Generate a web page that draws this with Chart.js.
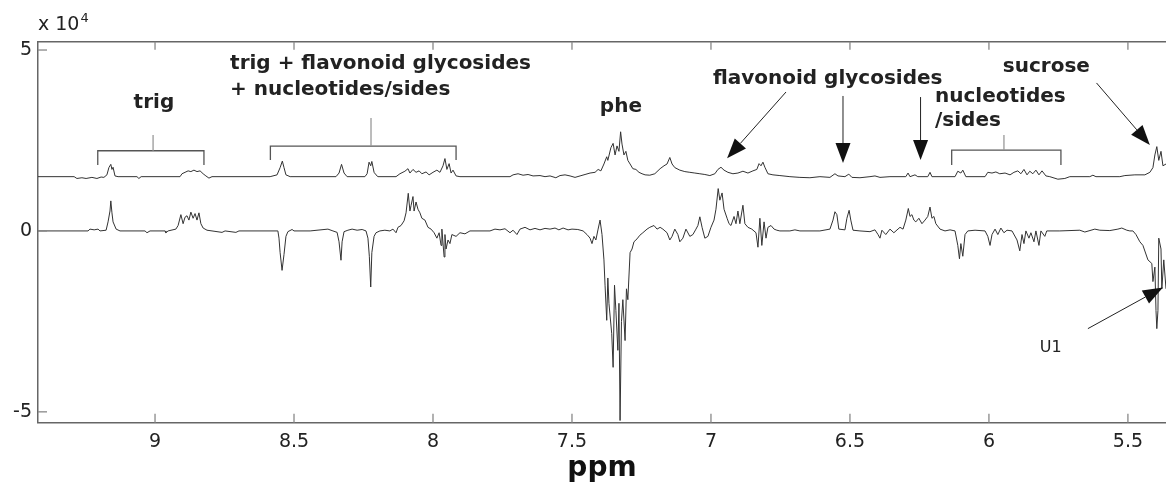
<!DOCTYPE html>
<html><head><meta charset="utf-8">
<script src="https://cdn.jsdelivr.net/npm/chart.js@4.4.1/dist/chart.umd.min.js"></script>
<style>html,body{margin:0;padding:0;background:#fff;}canvas{display:block;}</style>
</head><body>
<canvas id="c" width="1166" height="489"></canvas>
<script>
// ---------- data (values in units of 1e4) ----------
const xTicks = [9, 8.5, 8, 7.5, 7, 6.5, 6, 5.5];
const yTicks = [-5, 0, 5];

const upperPpm = [9.421,9.291,9.281,9.263,9.248,9.227,9.209,9.194,9.184,9.173,9.166,9.159,9.155,9.151,9.144,9.133,9.065,9.058,9.050,8.910,8.903,8.892,8.881,8.871,8.860,8.849,8.838,8.827,8.817,8.806,8.795,8.586,8.561,8.550,8.542,8.536,8.529,8.514,8.349,8.338,8.329,8.320,8.309,8.245,8.237,8.230,8.224,8.220,8.212,8.205,8.198,8.133,8.119,8.101,8.090,8.083,8.072,8.061,8.050,8.040,8.025,8.014,8.000,7.986,7.975,7.964,7.957,7.950,7.942,7.935,7.928,7.917,7.903,7.723,7.712,7.694,7.676,7.658,7.640,7.615,7.597,7.579,7.558,7.543,7.525,7.507,7.489,7.471,7.453,7.435,7.417,7.406,7.396,7.385,7.375,7.371,7.360,7.352,7.345,7.338,7.331,7.325,7.320,7.313,7.306,7.299,7.291,7.281,7.270,7.259,7.248,7.237,7.220,7.202,7.183,7.169,7.158,7.148,7.140,7.130,7.112,7.094,7.076,7.058,7.040,7.022,7.004,6.986,6.975,6.964,6.953,6.939,6.921,6.903,6.885,6.867,6.849,6.835,6.827,6.820,6.813,6.806,6.795,6.777,6.752,6.716,6.680,6.644,6.608,6.572,6.554,6.543,6.518,6.504,6.493,6.464,6.428,6.410,6.392,6.356,6.299,6.291,6.284,6.266,6.256,6.220,6.212,6.205,6.122,6.112,6.101,6.094,6.083,6.014,6.004,5.989,5.975,5.961,5.942,5.924,5.910,5.896,5.885,5.874,5.863,5.853,5.842,5.831,5.820,5.809,5.795,5.781,5.752,5.727,5.709,5.637,5.626,5.615,5.529,5.511,5.475,5.439,5.421,5.410,5.403,5.396,5.389,5.381,5.374,5.363];
const upperVal = [1.50,1.50,1.45,1.47,1.45,1.48,1.45,1.49,1.48,1.55,1.75,1.84,1.70,1.76,1.52,1.50,1.50,1.45,1.50,1.50,1.58,1.62,1.66,1.64,1.68,1.64,1.66,1.58,1.52,1.46,1.50,1.50,1.55,1.75,1.93,1.75,1.55,1.50,1.50,1.60,1.84,1.60,1.50,1.50,1.58,1.90,1.80,1.92,1.62,1.55,1.50,1.50,1.58,1.65,1.72,1.60,1.70,1.62,1.66,1.58,1.63,1.55,1.62,1.68,1.62,1.80,2.00,1.70,1.86,1.60,1.68,1.52,1.50,1.50,1.55,1.58,1.54,1.56,1.52,1.53,1.50,1.52,1.47,1.53,1.55,1.52,1.48,1.52,1.56,1.60,1.62,1.70,1.66,1.85,2.05,1.95,2.30,2.42,2.10,2.35,2.20,2.74,2.40,2.10,2.20,1.95,1.85,1.72,1.70,1.62,1.58,1.55,1.54,1.58,1.72,1.80,1.85,2.03,1.85,1.75,1.68,1.64,1.62,1.60,1.58,1.56,1.53,1.58,1.70,1.76,1.68,1.62,1.58,1.60,1.65,1.60,1.66,1.70,1.86,1.80,1.90,1.76,1.58,1.55,1.53,1.50,1.48,1.47,1.50,1.48,1.58,1.52,1.50,1.57,1.48,1.47,1.50,1.52,1.48,1.50,1.50,1.60,1.50,1.55,1.50,1.50,1.62,1.50,1.50,1.65,1.60,1.68,1.50,1.50,1.62,1.60,1.63,1.58,1.60,1.55,1.62,1.66,1.58,1.70,1.55,1.65,1.58,1.68,1.55,1.66,1.52,1.50,1.43,1.45,1.50,1.50,1.54,1.50,1.50,1.53,1.55,1.55,1.62,1.75,2.10,2.33,1.95,2.20,1.80,1.85];

const lowerPpm = [9.421,9.241,9.234,9.219,9.205,9.198,9.176,9.169,9.162,9.159,9.155,9.151,9.140,9.126,9.036,9.029,9.018,8.964,8.961,8.953,8.925,8.917,8.907,8.899,8.892,8.885,8.878,8.871,8.863,8.856,8.849,8.842,8.835,8.827,8.813,8.795,8.759,8.748,8.709,8.698,8.558,8.554,8.550,8.543,8.536,8.529,8.522,8.507,8.500,8.442,8.378,8.360,8.345,8.338,8.331,8.327,8.320,8.306,8.291,8.273,8.255,8.241,8.234,8.229,8.224,8.220,8.212,8.205,8.191,8.173,8.155,8.144,8.133,8.126,8.115,8.104,8.097,8.089,8.083,8.079,8.072,8.068,8.061,8.054,8.047,8.040,8.029,8.018,8.007,7.996,7.986,7.978,7.971,7.968,7.960,7.957,7.953,7.946,7.939,7.932,7.917,7.903,7.885,7.867,7.795,7.777,7.759,7.741,7.723,7.712,7.698,7.687,7.669,7.651,7.633,7.615,7.597,7.579,7.561,7.547,7.532,7.514,7.500,7.479,7.460,7.446,7.435,7.428,7.421,7.414,7.406,7.399,7.392,7.385,7.381,7.375,7.371,7.367,7.357,7.352,7.347,7.342,7.335,7.331,7.327,7.322,7.317,7.309,7.304,7.299,7.291,7.284,7.277,7.266,7.256,7.245,7.230,7.220,7.205,7.194,7.183,7.173,7.158,7.148,7.140,7.130,7.119,7.112,7.101,7.090,7.076,7.065,7.054,7.047,7.040,7.032,7.022,7.011,7.000,6.989,6.982,6.974,6.968,6.960,6.953,6.942,6.935,6.928,6.917,6.910,6.903,6.896,6.885,6.878,6.867,6.853,6.838,6.831,6.824,6.817,6.809,6.802,6.795,6.784,6.773,6.763,6.752,6.716,6.698,6.680,6.608,6.572,6.561,6.554,6.547,6.540,6.518,6.511,6.503,6.497,6.489,6.464,6.428,6.410,6.399,6.392,6.385,6.371,6.356,6.342,6.320,6.309,6.299,6.290,6.284,6.277,6.270,6.263,6.252,6.241,6.230,6.220,6.212,6.205,6.198,6.191,6.176,6.158,6.140,6.122,6.112,6.106,6.101,6.094,6.086,6.076,6.050,6.014,6.004,5.996,5.989,5.978,5.968,5.957,5.946,5.935,5.917,5.899,5.889,5.881,5.874,5.867,5.856,5.849,5.838,5.831,5.820,5.813,5.799,5.792,5.745,5.673,5.655,5.619,5.601,5.565,5.536,5.522,5.504,5.493,5.482,5.471,5.457,5.446,5.428,5.414,5.410,5.403,5.399,5.396,5.392,5.389,5.381,5.378,5.371,5.363];
const lowerVal = [0,0,0.05,0.03,0.05,0,0.02,0.25,0.55,0.83,0.50,0.25,0.05,0,0,-0.05,0,0,-0.05,0,0.05,0.15,0.45,0.20,0.38,0.42,0.30,0.52,0.35,0.48,0.30,0.50,0.20,0.08,0.02,0,-0.04,0,-0.04,0,0,-0.20,-0.60,-1.09,-0.65,-0.15,-0.02,0.04,0,0,0.05,0,-0.04,-0.30,-0.81,-0.30,-0.02,0.02,0.05,0.02,0.04,0,-0.20,-0.70,-1.55,-0.60,-0.15,-0.05,0,0.02,0,0.05,-0.05,0.10,0.15,0.28,0.50,1.04,0.55,0.70,0.95,0.55,0.80,0.60,0.50,0.35,0.30,0.10,0.05,-0.05,-0.20,-0.05,-0.40,0.05,-0.72,-0.10,-0.50,-0.25,-0.35,-0.10,-0.15,-0.05,-0.08,0,0,0.05,0.03,0.06,-0.05,0.02,-0.10,0.05,0.10,0.03,0.07,0.03,0.07,0.05,0.08,0.03,0.08,0.03,0.05,0.04,0,-0.10,-0.20,-0.35,-0.15,-0.25,0.05,0.30,-0.10,-0.80,-1.50,-2.47,-1.30,-2.00,-2.84,-3.77,-1.50,-2.20,-3.30,-2.00,-5.24,-2.50,-1.90,-3.03,-1.60,-1.90,-0.60,-0.50,-0.30,-0.22,-0.12,-0.05,0.05,0.10,0.15,0.05,0.10,0.05,-0.05,-0.25,-0.15,0.05,-0.10,-0.30,-0.20,0.05,-0.15,-0.10,0.05,0.15,0.39,0.10,-0.20,-0.15,0.10,0.30,0.60,1.17,0.85,1.05,0.60,0.35,0.20,0.15,0.40,0.20,0.55,0.20,0.71,0.20,0.10,0.05,-0.05,-0.45,0.35,-0.40,0.25,-0.20,0.10,0.15,0.05,0.02,0,0,0.03,0,0,0.05,0.30,0.53,0.45,0.05,0.03,0.35,0.57,0.30,0.02,0,-0.02,0.03,-0.10,-0.20,0.02,-0.10,0.05,-0.05,0.10,0.05,0.30,0.62,0.40,0.45,0.30,0.25,0.35,0.20,0.30,0.40,0.66,0.35,0.40,0.20,0.05,0,0.03,0,-0.40,-0.77,-0.35,-0.70,-0.10,0,0.02,0,-0.15,-0.40,-0.10,0.05,-0.10,0.08,-0.05,0.02,0,-0.25,-0.55,-0.10,-0.35,0,-0.20,-0.05,-0.30,0,-0.40,0,-0.15,0,0,0.02,-0.03,0.05,0.02,0.01,0.05,0.08,0.02,0,0,-0.10,-0.30,-0.40,-0.80,-0.90,-1.40,-1.00,-2.20,-2.70,-2.20,-0.20,-0.50,-1.60,-0.80,-1.60];

// ---------- annotations (data coordinates: ppm, value) ----------
const annoTexts = [
  {t:'trig', x:9.004, y:3.54, align:'center'},
  {t:'trig + flavonoid glycosides', x:8.730, y:4.62, align:'left'},
  {t:'+ nucleotides/sides', x:8.730, y:3.90, align:'left'},
  {t:'phe', x:7.324, y:3.43, align:'center'},
  {t:'flavonoid glycosides', x:6.993, y:4.20, align:'left'},
  {t:'nucleotides', x:6.194, y:3.70, align:'left'},
  {t:'/sides', x:6.194, y:3.04, align:'left'},
  {t:'sucrose', x:5.950, y:4.54, align:'left'}
];
const brackets = [
  {x1:9.206, x2:8.824, y:2.216, legY:1.82, stemX:9.007, stemY:2.65},
  {x1:8.585, x2:7.917, y:2.346, legY:1.958, stemX:8.223, stemY:3.12},
  {x1:6.134, x2:5.741, y:2.235, legY:1.82, stemX:5.946, stemY:2.65}
];
const arrows = [
  {x0:6.730, y0:3.84, x1:6.942, y1:2.006},
  {x0:6.525, y0:3.73, x1:6.525, y1:1.875},
  {x0:6.246, y0:3.70, x1:6.246, y1:1.958},
  {x0:5.613, y0:4.09, x1:5.421, y1:2.374},
  {x0:5.644, y0:-2.70, x1:5.374, y1:-1.56}
];

const upper = upperPpm.map((p, i) => ({x: p, y: upperVal[i]}));
const lower = lowerPpm.map((p, i) => ({x: p, y: lowerVal[i]}));

const annoPlugin = {
  id: 'anno',
  afterDraw(chart) {
    const {ctx, chartArea: a, scales: {x, y}} = chart;
    const px = v => x.getPixelForValue(v), py = v => y.getPixelForValue(v);
    const line = (x0, y0, x1, y1) => { ctx.beginPath(); ctx.moveTo(x0, y0); ctx.lineTo(x1, y1); ctx.stroke(); };
    ctx.save();
    // box top
    ctx.strokeStyle = '#666'; ctx.lineWidth = 1.5;
    line(a.left, a.top, a.right, a.top);
    // inward ticks
    ctx.strokeStyle = '#888'; ctx.lineWidth = 1.3;
    xTicks.forEach(t => { const X = px(t); line(X, a.bottom, X, a.bottom - 9); line(X, a.top, X, a.top + 8); });
    yTicks.forEach(t => { const Y = py(t); line(a.left, Y, a.left + 9, Y); });
    // exponent label
    ctx.fillStyle = '#222'; ctx.textBaseline = 'middle'; ctx.textAlign = 'left';
    ctx.font = '19px "DejaVu Sans"';
    ctx.fillText('x 10', a.left, 25);
    const w = ctx.measureText('x 10').width;
    ctx.font = '13px "DejaVu Sans"';
    ctx.fillText('4', a.left + w + 1, 19);
    // brackets
    ctx.strokeStyle = '#555'; ctx.lineWidth = 1.3;
    brackets.forEach(b => {
      const X1 = px(b.x1), X2 = px(b.x2), Y = py(b.y), L = py(b.legY);
      ctx.beginPath(); ctx.moveTo(X1, L); ctx.lineTo(X1, Y); ctx.lineTo(X2, Y); ctx.lineTo(X2, L); ctx.stroke();
    });
    ctx.strokeStyle = '#999';
    brackets.forEach(b => line(px(b.stemX), py(b.y), px(b.stemX), py(b.stemY)));
    // arrows
    ctx.strokeStyle = '#222'; ctx.fillStyle = '#111'; ctx.lineWidth = 1;
    arrows.forEach(r => {
      const X0 = px(r.x0), Y0 = py(r.y0), X1 = px(r.x1), Y1 = py(r.y1);
      const ang = Math.atan2(Y1 - Y0, X1 - X0), L = 20, W = 7.5;
      const bx = X1 - L * Math.cos(ang), by = Y1 - L * Math.sin(ang);
      line(X0, Y0, bx, by);
      ctx.beginPath();
      ctx.moveTo(X1, Y1);
      ctx.lineTo(bx + W * Math.sin(ang), by - W * Math.cos(ang));
      ctx.lineTo(bx - W * Math.sin(ang), by + W * Math.cos(ang));
      ctx.closePath(); ctx.fill();
    });
    // texts
    ctx.fillStyle = '#222'; ctx.textBaseline = 'middle';
    ctx.font = 'bold 20px "DejaVu Sans"';
    annoTexts.forEach(o => { ctx.textAlign = o.align; ctx.fillText(o.t, px(o.x), py(o.y)); });
    ctx.font = '16px "DejaVu Sans"'; ctx.textAlign = 'left';
    ctx.fillText('U1', px(5.817), py(-3.22));
    ctx.restore();
  }
};

new Chart(document.getElementById('c'), {
  type: 'line',
  data: {
    datasets: [
      {data: upper, borderColor: '#333', borderWidth: 1, pointRadius: 0, tension: 0, fill: false},
      {data: lower, borderColor: '#333', borderWidth: 1, pointRadius: 0, tension: 0, fill: false}
    ]
  },
  options: {
    responsive: false, animation: false, devicePixelRatio: 1,
    parsing: false,
    layout: {padding: {top: 41.7, right: 0, bottom: 0, left: 0}},
    plugins: {legend: {display: false}, tooltip: {enabled: false}},
    scales: {
      x: {
        type: 'linear', reverse: true, min: 5.363, max: 9.421,
        afterBuildTicks: s => { s.ticks = xTicks.map(v => ({value: v})); },
        afterFit: s => { s.height = 66.3; },
        ticks: {color: '#222', font: {family: 'DejaVu Sans', size: 19}, padding: 8, maxRotation: 0, callback: v => String(v)},
        grid: {display: true, drawOnChartArea: false, drawTicks: false},
        border: {display: true, color: '#666', width: 1.5},
        title: {display: true, text: 'ppm', color: '#111', font: {family: 'DejaVu Sans', size: 28, weight: 'bold'}, padding: {top: 0, bottom: 3}}
      },
      y: {
        type: 'linear', min: -5.30, max: 5.23,
        afterBuildTicks: s => { s.ticks = yTicks.map(v => ({value: v})); },
        afterFit: s => { s.width = 38; },
        ticks: {color: '#222', font: {family: 'DejaVu Sans', size: 19}, padding: 6, callback: v => String(v)},
        grid: {display: true, drawOnChartArea: false, drawTicks: false},
        border: {display: true, color: '#666', width: 1.5}
      }
    }
  },
  plugins: [annoPlugin]
});
</script>
</body></html>
